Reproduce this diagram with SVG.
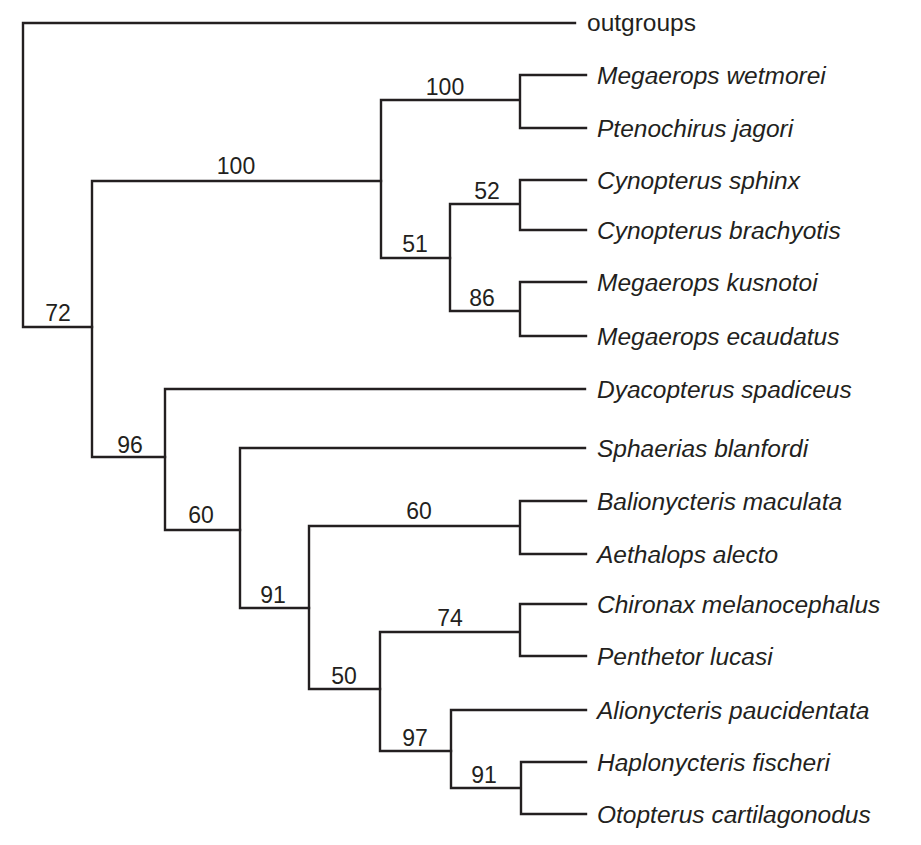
<svg xmlns="http://www.w3.org/2000/svg" width="921" height="845" viewBox="0 0 921 845">
<style>
.e{fill:none;stroke:#231f20;stroke-width:2.4;stroke-linecap:square}
.b{font-family:"Liberation Sans",Arial,sans-serif;font-size:23px;fill:#231f20;text-anchor:middle}
.t{font-family:"Liberation Sans",Arial,sans-serif;font-size:24.5px;font-style:italic;fill:#231f20}
</style>
<rect width="921" height="845" fill="#fff"/>
<g id="connectors">
<path class="e" d="M575,23H23V327H92"/>
<path class="e" d="M381,181H92V457H165"/>
<path class="e" d="M586,75H520V128H586M520,100H381V258H450"/>
<path class="e" d="M586,180H520V230H586M520,204H450V311H520M586,282H520V336H586"/>
<path class="e" d="M585,389H165V530H240"/>
<path class="e" d="M585,448H240V608H309"/>
<path class="e" d="M586,501H520V554H586M520,526H309V689H380"/>
<path class="e" d="M586,604H520V656H586M520,632H380V751H451"/>
<path class="e" d="M586,710H451V788H521M586,762H521V814H586"/>
</g>
<g id="support">
<text class="b" x="58" y="321">72</text>
<text class="b" x="236" y="174">100</text>
<text class="b" x="445" y="95">100</text>
<text class="b" x="415" y="252">51</text>
<text class="b" x="487" y="199">52</text>
<text class="b" x="482" y="306">86</text>
<text class="b" x="130" y="453">96</text>
<text class="b" x="201" y="523">60</text>
<text class="b" x="419" y="519">60</text>
<text class="b" x="273" y="603">91</text>
<text class="b" x="450" y="626">74</text>
<text class="b" x="344" y="684">50</text>
<text class="b" x="415" y="746">97</text>
<text class="b" x="484" y="783">91</text>
</g>
<g id="taxa">
<text class="t" x="587" y="31" style="font-style:normal">outgroups</text>
<text class="t" x="597" y="84">Megaerops wetmorei</text>
<text class="t" x="597" y="137">Ptenochirus jagori</text>
<text class="t" x="597" y="189">Cynopterus sphinx</text>
<text class="t" x="597" y="239">Cynopterus brachyotis</text>
<text class="t" x="597" y="291">Megaerops kusnotoi</text>
<text class="t" x="597" y="345">Megaerops ecaudatus</text>
<text class="t" x="597" y="398">Dyacopterus spadiceus</text>
<text class="t" x="597" y="457">Sphaerias blanfordi</text>
<text class="t" x="597" y="510">Balionycteris maculata</text>
<text class="t" x="597" y="563">Aethalops alecto</text>
<text class="t" x="597" y="613">Chironax melanocephalus</text>
<text class="t" x="597" y="665">Penthetor lucasi</text>
<text class="t" x="597" y="719">Alionycteris paucidentata</text>
<text class="t" x="597" y="771">Haplonycteris fischeri</text>
<text class="t" x="597" y="823">Otopterus cartilagonodus</text>
</g>
</svg>
